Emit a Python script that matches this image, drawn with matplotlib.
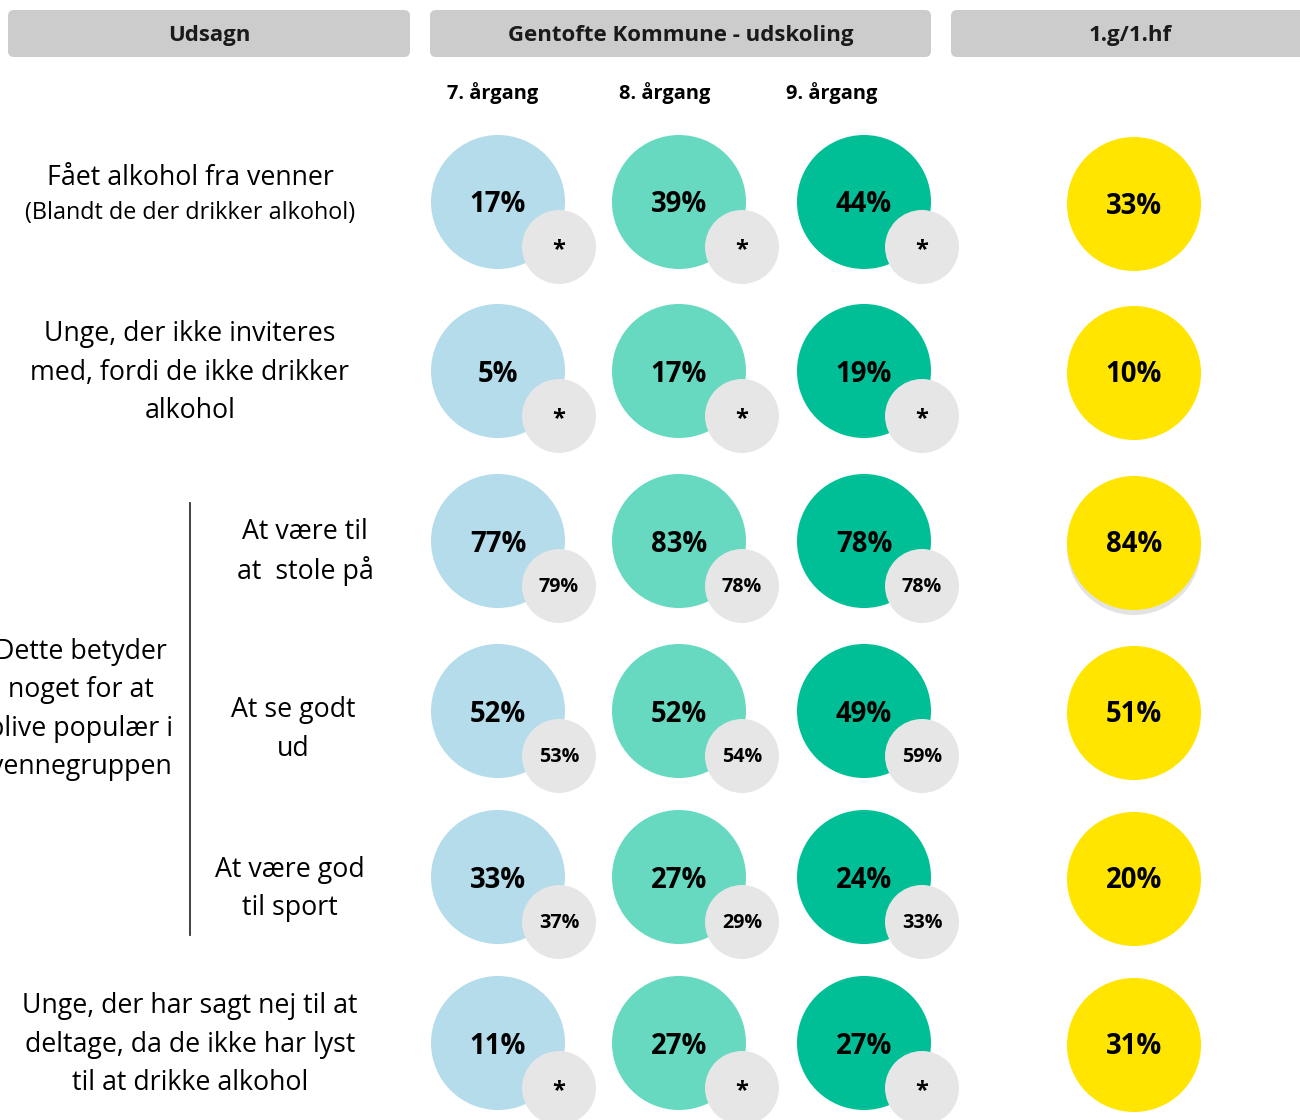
import matplotlib
matplotlib.use("Agg")
import matplotlib.pyplot as plt
from matplotlib.patches import Circle, FancyBboxPatch

plt.rcParams['font.family'] = ['Open Sans', 'DejaVu Sans']

# data
grades = ['7. årgang', '8. årgang', '9. årgang']
pct_7 = [17, 5, 77, 52, 33, 11]
pct_8 = [39, 17, 83, 52, 27, 27]
pct_9 = [44, 19, 78, 49, 24, 27]
cmp_7 = ['*', '*', 79, 53, 37, '*']
cmp_8 = ['*', '*', 78, 54, 29, '*']
cmp_9 = ['*', '*', 78, 59, 33, '*']
gym = [33, 10, 84, 51, 20, 31]
headers = ['Udsagn', 'Gentofte Kommune - udskoling', '1.g/1.hf']

row_labels = {0: ['Fået alkohol fra venner'],
              1: ['Unge, der ikke inviteres', 'med, fordi de ikke drikker', 'alkohol'],
              5: ['Unge, der har sagt nej til at', 'deltage, da de ikke har lyst', 'til at drikke alkohol']}
sub_labels = {2: ['At være til', 'at  stole på'],
              3: ['At se godt', 'ud'],
              4: ['At være god', 'til sport']}
group_label = ['Dette betyder', 'noget for at', 'blive populær i', 'vennegruppen']

# layout (pixel coords)
row_y = [202, 371, 541, 711, 877, 1043]
col_x = [498, 679, 864]
small_dx = [61, 63, 58]
colors = ['#B4DCEB', '#66D9C0', '#00BF96']
yellow = '#FFE500'
grey = '#E6E6E6'

fig = plt.figure(figsize=(13, 11.2), dpi=100)
ax = fig.add_axes([0, 0, 1, 1])
ax.set_xlim(0, 1300)
ax.set_ylim(1120, 0)
ax.set_aspect('equal')
ax.axis('off')

# header boxes
boxes = [(8, 410), (430, 931), (951, 1320)]
for (x0, x1), h in zip(boxes, headers):
    ax.add_patch(FancyBboxPatch((x0 + 6, 16), x1 - x0 - 12, 35,
                                boxstyle='round,pad=6', fc='#CCCCCC', ec='none'))
    ax.text((x0 + min(x1, 1310)) / 2, 36, h, ha='center', va='center',
            fontsize=16, fontweight='bold', color='#1a1a1a')

for x, g in zip([493, 665, 832], grades):
    ax.text(x, 93, g, ha='center', va='center', fontsize=14.4, fontweight='bold')

series = [pct_7, pct_8, pct_9]
comps = [cmp_7, cmp_8, cmp_9]
for i, y in enumerate(row_y):
    for j in range(3):
        cx = col_x[j]
        ax.add_patch(Circle((cx, y), 67, fc=colors[j], ec='none'))
        ax.text(cx, y + 3, f'{series[j][i]}%', ha='center', va='center',
                fontsize=19.8, fontweight='bold', color='black')
        sx, sy = cx + small_dx[j], y + 45
        ax.add_patch(Circle((sx, sy), 37, fc=grey, ec='none'))
        c = comps[j][i]
        if c == '*':
            ax.text(sx, sy + 3, '*', ha='center', va='center', fontsize=17,
                    fontweight='bold')
        else:
            ax.text(sx, sy + 1, f'{c}%', ha='center', va='center', fontsize=14.2,
                    fontweight='bold')
    gy = y + 2
    if i == 2:
        ax.add_patch(Circle((1134, gy + 5), 67, fc='#E3E3E3', ec='none'))
    ax.add_patch(Circle((1134, gy), 67, fc=yellow, ec='none'))
    ax.text(1134, gy + 2, f'{gym[i]}%', ha='center', va='center',
            fontsize=19.8, fontweight='bold')

# row labels
for i, lines in row_labels.items():
    n = len(lines)
    y0 = row_y[i] - (n - 1) * 38.5 / 2 + 2
    if i == 0:
        y0 = 178
    for k, t in enumerate(lines):
        ax.text(190, y0 + k * 38.5, t, ha='center', va='center', fontsize=19.3)
ax.text(190, 213, '(Blandt de der drikker alkohol)', ha='center', va='center',
        fontsize=16.8)

sub_x = {2: 305, 3: 293, 4: 290}
sub_y = {2: 532, 3: 710, 4: 870}
for i, lines in sub_labels.items():
    for k, t in enumerate(lines):
        ax.text(sub_x[i], sub_y[i] + k * 38.5, t, ha='center', va='center',
                fontsize=19.3)

for k, t in enumerate(group_label):
    ax.text(81, 652 + k * 38.3, t, ha='center', va='center', fontsize=19.3)

ax.plot([190, 190], [503, 935], color='#333333', lw=1.3)

fig.savefig('out.png', dpi=100)
